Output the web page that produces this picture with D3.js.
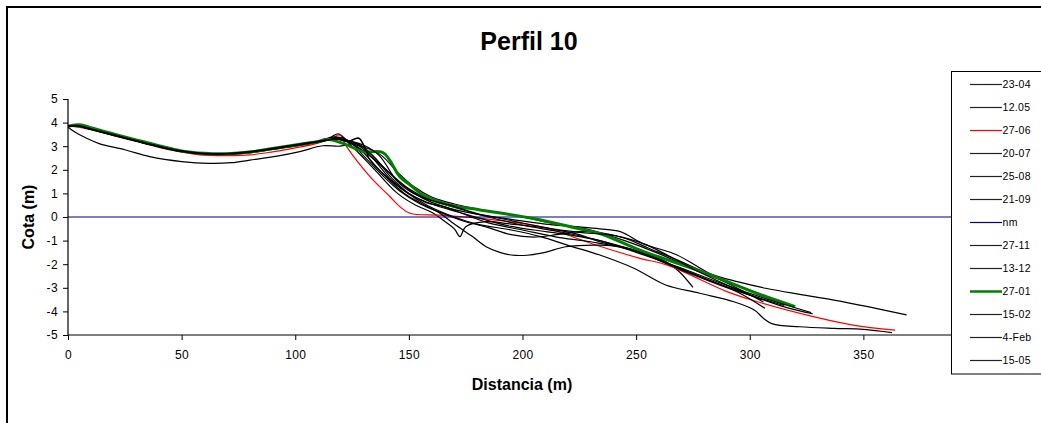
<!DOCTYPE html>
<html>
<head>
<meta charset="utf-8">
<script src="https://cdn.jsdelivr.net/npm/d3@7"></script>
<style>
  body { margin: 0; background: #fff; overflow: hidden; }
  text { font-family: "Liberation Sans", Arial, sans-serif; fill: #000; }
</style>
</head>
<body>
<svg id="chart" width="1041" height="423"></svg>
<script>
// profile data, [distance (m), cota (m)]
const s2304 = [[0,3.8],[3,3.6],[8,3.35],[14,3.1],[25,2.85],[36,2.56],[50,2.35],[62,2.27],[72,2.3],[80,2.41],[92,2.58],[102,2.77],[112,3.02],[119.7,3.0],[127,3.12],[133,2.7],[140,2.0],[148,1.3],[156,0.8],[165,0.45],[178,0.15],[195,-0.1],[210,-0.3],[222,-0.4],[234,-0.5],[243,-0.62],[253,-1.12],[268,-1.61],[277,-2.1],[283,-2.42],[295,-2.75],[307,-3.02],[322,-3.28],[337,-3.52],[352,-3.8],[369,-4.15]];
const s1205 = [[0,3.85],[4,3.87],[10,3.72],[20,3.47],[30,3.22],[40,2.98],[50,2.78],[60,2.67],[70,2.66],[80,2.74],[90,2.87],[100,3.02],[110,3.18],[116,3.4],[119,3.52],[125,3.0],[135,2.0],[145,1.0],[153,0.5],[160,0.2],[166,-0.2],[170,-0.5],[172.5,-0.83],[175,-0.41],[184,-0.2],[195,-0.3],[205,-0.4],[215,-0.55],[225,-0.75],[234,-1.05],[249,-1.4],[263,-1.89],[269,-2.32],[275,-2.98]];
const s2706 = [[0,3.85],[5,3.8],[10,3.7],[20,3.45],[30,3.2],[40,2.95],[50,2.75],[60,2.62],[70,2.6],[80,2.63],[90,2.76],[100,2.93],[110,3.13],[116,3.35],[119.7,3.47],[122.6,2.98],[132.9,1.71],[141.7,0.86],[146,0.44],[150.5,0.16],[163.7,0.08],[181.3,-0.06],[201.8,-0.3],[210,-0.45],[234,-1.24],[251.7,-1.75],[263.5,-2.03],[290,-3.16],[302,-3.55],[328,-4.22],[345.5,-4.58],[364,-4.79]];
const s2007 = [[0,3.84],[4,3.86],[10,3.73],[20,3.49],[30,3.24],[40,3.0],[50,2.8],[60,2.69],[70,2.69],[80,2.77],[90,2.91],[100,3.06],[110,3.2],[118,3.3],[124,3.22],[128,3.33],[133,2.4],[140,1.7],[148,1.0],[155,0.6],[163,0.2],[170,-0.3],[178,-0.83],[184,-1.26],[190,-1.5],[195,-1.61],[202,-1.62],[210,-1.5],[219,-1.26],[234,-1.19],[243,-1.26],[252,-1.5],[265,-2.0],[280,-2.6],[295,-3.2],[306.7,-3.87]];
const s2508 = [[0,3.83],[4,3.85],[10,3.71],[20,3.46],[30,3.21],[40,2.97],[50,2.77],[60,2.66],[70,2.65],[80,2.72],[90,2.86],[100,3.0],[110,3.16],[120,3.3],[128,2.9],[138,1.9],[148,1.1],[158,0.5],[170,0.0],[180,-0.3],[195,-0.55],[208,-0.83],[220,-1.2],[234,-1.61],[249,-2.17],[263,-2.88],[278,-3.23],[293,-3.59],[302,-3.94],[306,-4.29],[310,-4.53],[322,-4.65],[337,-4.72],[350,-4.76],[362.6,-4.9]];
const s2109 = [[0,3.86],[4,3.88],[10,3.74],[20,3.5],[30,3.25],[40,3.01],[50,2.81],[60,2.7],[70,2.7],[80,2.78],[90,2.92],[100,3.07],[110,3.22],[120,3.35],[130,2.8],[140,2.0],[150,1.2],[160,0.7],[172,0.35],[185,0.0],[200,-0.35],[215,-0.6],[230,-0.9],[249,-1.4],[263,-1.96],[278,-2.53],[296,-3.16],[316,-3.83],[327.7,-4.1]];
const snm = [[0,0],[400,0]];
const s2711 = [[0,3.85],[4,3.88],[10,3.75],[20,3.5],[30,3.26],[40,3.02],[50,2.8],[60,2.69],[70,2.68],[80,2.76],[90,2.9],[100,3.05],[110,3.2],[118,3.35],[125,3.1],[132,2.9],[138,2.6],[145,1.9],[152,1.3],[160,0.85],[170,0.55],[185,0.25],[200,0.0],[215,-0.3],[230,-0.55],[245,-1.0],[260,-1.55],[280,-2.4],[300,-3.1],[315.5,-3.73]];
const s1312 = [[0,3.84],[4,3.86],[10,3.72],[20,3.48],[30,3.23],[40,2.99],[50,2.79],[60,2.68],[70,2.67],[80,2.75],[90,2.89],[100,3.04],[110,3.19],[118,3.4],[124,3.2],[130,2.6],[138,1.8],[146,1.1],[155,0.55],[165,0.15],[175,-0.2],[185,-0.45],[195,-0.75],[205,-0.85],[215,-0.75],[225,-0.62],[234,-0.66],[245,-0.9],[255,-1.3],[270,-1.9],[290,-2.8],[306,-3.6]];
const s2701 = [[0,3.85],[3,3.9],[6,3.9],[10,3.78],[20,3.52],[30,3.27],[40,3.02],[50,2.8],[60,2.7],[70,2.68],[80,2.75],[90,2.9],[100,3.05],[110,3.2],[114,3.29],[121,3.12],[130,2.77],[138.7,2.72],[146,1.71],[150.5,1.36],[156.4,0.93],[168,0.51],[181.3,0.3],[204.8,-0.06],[225,-0.5],[234,-0.7],[251.7,-1.4],[281,-2.39],[303,-3.23],[320,-3.8]];
const s1502 = [[0,3.85],[4,3.87],[10,3.73],[20,3.48],[30,3.23],[40,2.99],[50,2.79],[60,2.68],[70,2.68],[80,2.76],[90,2.9],[100,3.05],[110,3.2],[118,3.3],[126,3.15],[134,2.5],[142,1.6],[150,1.0],[160,0.55],[172,0.2],[183,-0.1],[195,-0.4],[205,-0.55],[220,-0.75],[234,-1.0],[250,-1.5],[268,-2.1],[290,-2.9],[310,-3.55],[327,-4.05]];
const s4feb = [[0,3.86],[4,3.88],[10,3.74],[20,3.49],[30,3.24],[40,3.0],[50,2.8],[60,2.7],[70,2.69],[80,2.77],[90,2.91],[100,3.06],[110,3.21],[118,3.3],[125,3.2],[130,3.05],[137,2.6],[145,1.5],[152,1.0],[160,0.7],[168,0.5],[180,0.15],[195,-0.15],[210,-0.45],[225,-0.65],[240,-0.78],[255,-1.2],[275,-2.2],[295,-3.1],[305,-3.5]];
const s1505 = [[0,3.84],[4,3.86],[10,3.72],[20,3.47],[30,3.22],[40,2.98],[50,2.78],[60,2.67],[70,2.67],[80,2.75],[90,2.88],[100,3.03],[110,3.18],[118,3.3],[123,3.2],[128,3.35],[131,2.9],[136,2.4],[142,1.7],[150,1.0],[158,0.6],[165,0.45],[175,0.1],[185,-0.25],[200,-0.55],[215,-0.85],[230,-1.05],[250,-1.45],[270,-2.25],[290,-3.0],[315,-3.75]];

const seriesNames = ["23-04","12.05","27-06","20-07","25-08","21-09","nm","27-11","13-12","27-01","15-02","4-Feb","15-05"];
const seriesData = [s2304,s1205,s2706,s2007,s2508,s2109,snm,s2711,s1312,s2701,s1502,s4feb,s1505];
const seriesColors = ["#000","#000","#ff0000","#000","#000","#000","#000080","#000","#000","#008000","#000","#000","#000"];
const seriesWidths = [1.2,1.2,1.2,1.2,1.2,1.2,1.2,1.2,1.2,3,1.2,1.2,1.2];

const xTicks = [0,50,100,150,200,250,300,350];
const yTicks = [5,4,3,2,1,0,-1,-2,-3,-4,-5];

const svg = d3.select("#chart");

// outer chart border (runs off the right and bottom edge)
svg.append("rect")
  .attr("x", 7).attr("y", 7)
  .attr("width", 1100).attr("height", 480)
  .attr("fill", "none")
  .attr("stroke", "#000")
  .attr("stroke-width", 2);

const x = d3.scaleLinear().domain([0, 400]).range([68, 977]);
const y = d3.scaleLinear().domain([-5, 5]).range([335, 99]);

const line = d3.line()
  .x(d => x(d[0]))
  .y(d => y(d[1]))
  .curve(d3.curveCatmullRom.alpha(0.5));

const g = svg.append("g");

seriesData.forEach((s, i) => {
  g.append("path")
    .datum(s)
    .attr("d", line)
    .attr("fill", "none")
    .attr("stroke", seriesColors[i])
    .attr("stroke-width", seriesWidths[i])
    .attr("stroke-linejoin", "round");
});

// axes
const xAxis = svg.append("g")
  .attr("transform", `translate(0, ${y(-5)})`)
  .call(d3.axisBottom(x).tickValues(xTicks).tickSize(5).tickPadding(10)
    .tickFormat(d => String(d)));

const yAxis = svg.append("g")
  .attr("transform", `translate(${x(0)}, 0)`)
  .call(d3.axisLeft(y).tickValues(yTicks).tickSize(5).tickPadding(5)
    .tickFormat(d => String(d)));

[xAxis, yAxis].forEach(a => {
  a.select(".domain").attr("stroke", "#000").attr("stroke-width", 1.2);
  a.selectAll(".tick line").attr("stroke", "#000");
  a.selectAll(".tick text")
    .style("font-family", "'Liberation Sans', Arial, sans-serif")
    .style("font-size", "12px")
    .style("letter-spacing", "0.4px")
    .attr("fill", "#000");
});
xAxis.select(".domain").attr("d", `M${x(0)},0H${x(400)}`);
yAxis.select(".domain").attr("d", `M0,${y(5)}V${y(-5)}`);

// titles
svg.append("text")
  .attr("x", 529).attr("y", 50)
  .attr("text-anchor", "middle")
  .style("font-size", "25px")
  .style("font-weight", "bold")
  .text("Perfil 10");

svg.append("text")
  .attr("x", 522).attr("y", 390)
  .attr("text-anchor", "middle")
  .style("font-size", "16px")
  .style("font-weight", "bold")
  .text("Distancia (m)");

svg.append("text")
  .attr("transform", "translate(34, 217) rotate(-90)")
  .attr("text-anchor", "middle")
  .style("font-size", "16px")
  .style("font-weight", "bold")
  .text("Cota (m)");

// legend
const legend = svg.append("g").attr("transform", "translate(951.5, 71.5)");
legend.append("rect")
  .attr("width", 150).attr("height", 302.5)
  .attr("fill", "#fff")
  .attr("stroke", "#000")
  .attr("stroke-width", 1);

seriesNames.forEach((name, i) => {
  const ly = 13 + i * 23;
  legend.append("line")
    .attr("x1", 18.5).attr("x2", 50.5)
    .attr("y1", ly).attr("y2", ly)
    .attr("stroke", seriesColors[i] === "#000" ? "#222" : seriesColors[i])
    .attr("stroke-width", seriesWidths[i] > 2 ? 2.5 : 1.2);
  legend.append("text")
    .attr("x", 51).attr("y", ly)
    .attr("dy", "0.35em")
    .style("font-size", "10.5px")
    .style("letter-spacing", "0.3px")
    .text(name);
});
</script>
</body>
</html>
